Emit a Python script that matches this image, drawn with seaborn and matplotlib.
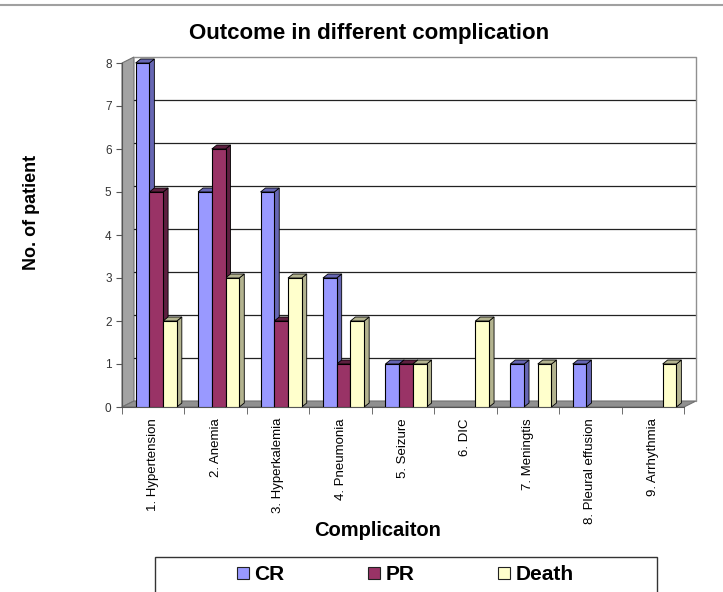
import numpy as np
import pandas as pd
import matplotlib
matplotlib.use("Agg")
import matplotlib.pyplot as plt
from matplotlib.patches import Polygon, Rectangle
from matplotlib.lines import Line2D
import seaborn as sns

# Data
complications = ["1. Hypertension", "2. Anemia", "3. Hyperkalemia", "4. Pneumonia",
                 "5. Seizure", "6. DIC", "7. Meningtis", "8. Pleural effusion",
                 "9. Arrhythmia"]
cr = [8, 5, 5, 3, 1, 0, 1, 1, 0]
pr = [5, 6, 2, 1, 1, 0, 0, 0, 0]
death = [2, 3, 3, 2, 1, 2, 1, 0, 1]

outcomes = ["CR", "PR", "Death"]
colors = {"CR": "#9999FF", "PR": "#993366", "Death": "#FFFFCC"}
side_colors = {"CR": "#6666B3", "PR": "#5E1F40", "Death": "#B3B38F"}

df = pd.DataFrame({"Complication": complications, "CR": cr, "PR": pr, "Death": death})
df = df.melt(id_vars="Complication", var_name="Outcome", value_name="Count")

sns.set_style("white")
plt.rcParams["font.family"] = ["Liberation Sans", "DejaVu Sans"]
plt.rcParams["text.color"] = "black"

fig = plt.figure(figsize=(7.23, 5.92), dpi=100)
W, H = 723, 592
ax = fig.add_axes([122 / W, 1 - 407 / H, 562 / W, 344 / H])

sns.barplot(data=df, x="Complication", y="Count", hue="Outcome", hue_order=outcomes,
            palette=colors, width=0.66, edgecolor="black", linewidth=0.8,
            saturation=1, ax=ax, zorder=3)

ax.set_xlim(-0.5, len(complications) - 0.5)
ax.set_ylim(0, 8)

# pseudo 3d depth, in data units
ppx = ax.bbox.width / (len(complications))
ppy = ax.bbox.height / 8
wall_dx, wall_dy = 12 / ppx, 6 / ppy
bar_dx, bar_dy = 5 / ppx, 4 / ppy
shift = 3 / ppx  # bars sit a little into the depth

x0, x1 = -0.5, len(complications) - 0.5

# left wall and floor
left_wall = Polygon([(x0, 0), (x0 + wall_dx, wall_dy), (x0 + wall_dx, 8 + wall_dy), (x0, 8)],
                    closed=True, facecolor="#A3A3A3", edgecolor="#707070", lw=0.8,
                    zorder=0.5, clip_on=False)
floor = Polygon([(x0, 0), (x1, 0), (x1 + wall_dx, wall_dy), (x0 + wall_dx, wall_dy)],
                closed=True, facecolor="#909090", edgecolor="#707070", lw=0.8,
                zorder=0.5, clip_on=False)
ax.add_patch(left_wall)
ax.add_patch(floor)

# gridlines on the back wall
for v in range(1, 8):
    ax.plot([x0 + wall_dx, x1 + wall_dx], [v + wall_dy, v + wall_dy], color="#222222",
            lw=0.9, zorder=0.8, clip_on=False)
ax.plot([x0 + wall_dx, x1 + wall_dx, x1 + wall_dx], [8 + wall_dy, 8 + wall_dy, wall_dy],
        color="#909090", lw=1.0, zorder=0.8, clip_on=False)

# side and top faces of the bars
for container, name in zip(ax.containers, outcomes):
    for p in container.patches:
        p.set_x(p.get_x() + shift)
        x, y, w, h = p.get_x(), p.get_y(), p.get_width(), p.get_height()
        if h <= 0:
            p.set_visible(False)
            continue
        side = Polygon([(x + w, y), (x + w + bar_dx, y + bar_dy),
                        (x + w + bar_dx, y + h + bar_dy), (x + w, y + h)],
                       closed=True, facecolor=side_colors[name], edgecolor="black",
                       lw=0.6, zorder=2.9, clip_on=False)
        top = Polygon([(x, y + h), (x + bar_dx, y + h + bar_dy),
                       (x + w + bar_dx, y + h + bar_dy), (x + w, y + h)],
                      closed=True, facecolor=side_colors[name], edgecolor="black",
                      lw=0.6, zorder=2.9, clip_on=False)
        ax.add_patch(side)
        ax.add_patch(top)

# axes styling
for s in ["top", "right"]:
    ax.spines[s].set_visible(False)
ax.spines["left"].set_color("#555555")
ax.spines["bottom"].set_color("#555555")
ax.set_yticks(range(0, 9))
ax.tick_params(axis="y", labelsize=8.5, labelcolor="#333333", length=4, color="#555555",
               direction="out", left=True)
ax.set_xticks(range(len(complications)))
ax.set_xticklabels(complications, rotation=90, fontsize=9.5, color="black")
ax.tick_params(axis="x", length=0, pad=8)
ax.set_xticks(np.arange(-0.5, len(complications)), minor=True)
ax.tick_params(axis="x", which="minor", length=5, color="#555555", bottom=True)
ax.set_xlabel("")
ax.set_ylabel("")

# legend (frame drawn separately, runs off the bottom edge like the original)
sns.move_legend(ax, "center", bbox_to_anchor=(405 / W, 1 - 575 / H),
                bbox_transform=fig.transFigure, ncol=3, title=None, frameon=False,
                fontsize=15, handlelength=0.6, handleheight=0.5, handletextpad=0.25,
                columnspacing=4.0, borderpad=0, borderaxespad=0)
leg = ax.get_legend()
for t in leg.get_texts():
    t.set_fontweight("bold")
for hnd in leg.legend_handles:
    hnd.set_edgecolor("#222222")
    hnd.set_linewidth(0.8)
fig.add_artist(Rectangle((155 / W, -0.05), 502 / W, 1 - 557 / H + 0.05,
                         transform=fig.transFigure, facecolor="none",
                         edgecolor="#333333", lw=1.0))

fig.text(369 / W, 1 - 34 / H, "Outcome in different complication", ha="center",
         va="center", fontsize=16, fontweight="bold")
fig.text(32 / W, 1 - 212 / H, "No. of patient", ha="center", va="center",
         rotation=90, fontsize=13, fontweight="bold")
fig.text(378 / W, 1 - 531 / H, "Complicaiton", ha="center", va="center",
         fontsize=14.5, fontweight="bold")
fig.add_artist(Line2D([0, 1], [1 - 5 / H, 1 - 5 / H], transform=fig.transFigure,
                      color="#A0A0A0", lw=1.5))

fig.savefig("out.png", dpi=100)
